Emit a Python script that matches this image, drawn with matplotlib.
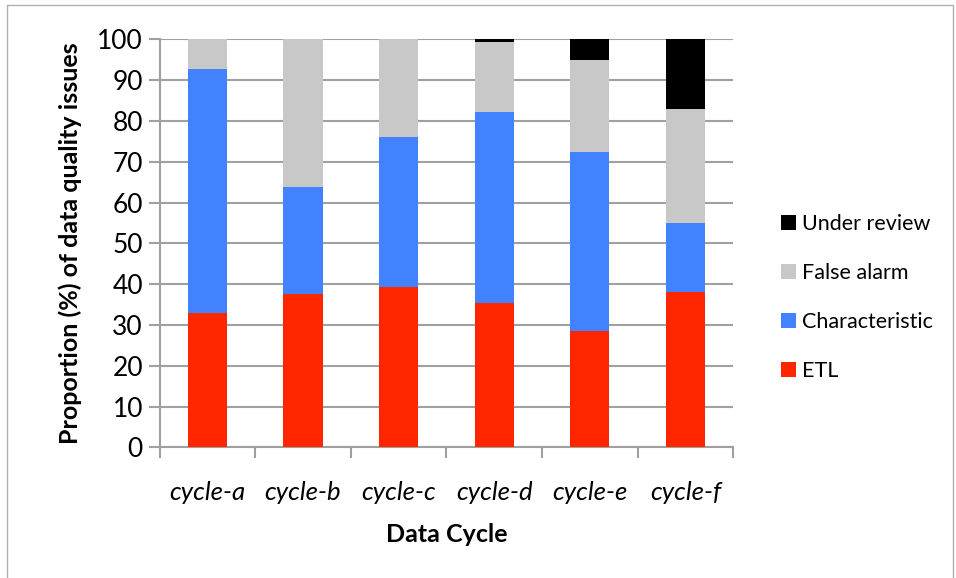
import matplotlib.pyplot as plt
from matplotlib.patches import Rectangle
import numpy as np

plt.rcParams['font.family'] = ['Lato', 'DejaVu Sans']

cycles = ['cycle-a', 'cycle-b', 'cycle-c', 'cycle-d', 'cycle-e', 'cycle-f']
etl = [33.0, 37.7, 39.4, 35.3, 28.4, 38.0]
characteristic = [59.8, 26.1, 36.6, 46.9, 44.0, 17.0]
false_alarm = [7.2, 36.2, 24.0, 17.1, 22.5, 27.9]
under_review = [0.0, 0.0, 0.0, 0.7, 5.1, 17.1]

series = [('ETL', etl, '#ff2600'),
          ('Characteristic', characteristic, '#4282ff'),
          ('False alarm', false_alarm, '#c8c8c8'),
          ('Under review', under_review, '#000000')]

fig = plt.figure(figsize=(9.56, 5.78), dpi=100)
fig.patches.append(Rectangle((0.007, -0.05), 0.99, 1.042, transform=fig.transFigure,
                             fill=False, edgecolor='#b0b0b0', linewidth=1))
ax = fig.add_axes([0.167, 0.226, 0.600, 0.706])

x = np.arange(len(cycles))
bottom = np.zeros(len(cycles))
handles = []
for name, vals, color in series:
    b = ax.bar(x, vals, width=0.41, bottom=bottom, color=color, label=name, zorder=3)
    handles.append(b)
    bottom += np.array(vals)

ax.set_xlim(-0.5, len(cycles) - 0.5)
ax.set_ylim(0, 100)
ax.set_yticks(np.arange(0, 101, 10))
ax.yaxis.grid(True, color='#a0a0a0', linewidth=1.5, zorder=0)
ax.set_axisbelow(True)

for s in ['top', 'right']:
    ax.spines[s].set_visible(False)
for s in ['left', 'bottom']:
    ax.spines[s].set_color('#a0a0a0')
    ax.spines[s].set_linewidth(1.5)

ax.set_xticks(x)
ax.set_xticklabels(cycles, fontsize=18.5, style='italic')
ax.set_xticks(np.arange(-0.5, len(cycles)), minor=True)
ax.tick_params(axis='x', which='major', length=0, pad=24)
ax.tick_params(axis='x', which='minor', length=8, width=1.5, color='#a0a0a0')
ax.tick_params(axis='y', labelsize=19, length=8, width=1.5, color='#a0a0a0', pad=4)

ax.set_ylabel('Proportion (%) of data quality issues', fontsize=18, fontweight='bold', labelpad=11)
ax.set_xlabel('Data Cycle', fontsize=18, fontweight='bold', labelpad=14)

fig.legend(handles[::-1], [h.get_label() for h in handles[::-1]],
           loc='center left', bbox_to_anchor=(0.797, 0.485), frameon=False,
           fontsize=15.5, handlelength=0.7, handleheight=0.7, handletextpad=0.25,
           labelspacing=1.35)

fig.savefig('out.png', dpi=100)
